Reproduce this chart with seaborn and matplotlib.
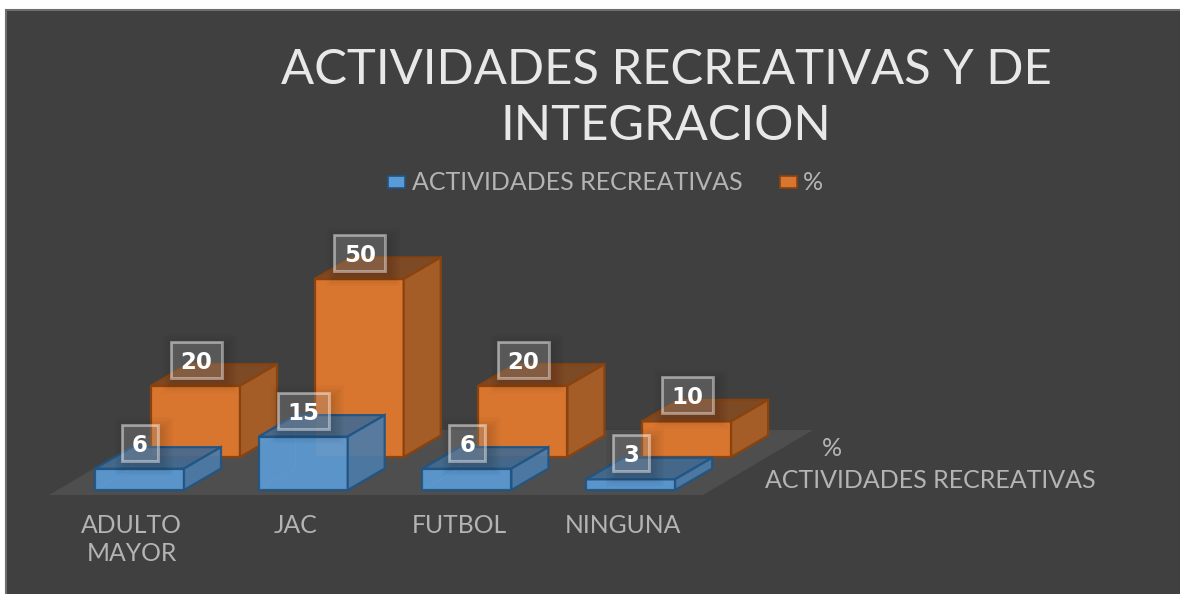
import matplotlib
matplotlib.use("Agg")
import matplotlib.pyplot as plt
import seaborn as sns
from matplotlib.patches import Polygon, Rectangle

# Data
categories = ["ADULTO\nMAYOR", "JAC", "FUTBOL", "NINGUNA"]
actividades = [6, 15, 6, 3]
porcentaje = [20, 50, 20, 10]
series_names = ["ACTIVIDADES RECREATIVAS", "%"]
title = "ACTIVIDADES RECREATIVAS Y DE\nINTEGRACION"

W, H = 1180, 594
BG = "#404040"
TXT = "#b4b4b4"
PX_X = 163.7   # pixels per category
PX_Y = 3.56    # pixels per value unit
DEPTH = (37, 21.5)  # box depth on screen, pixels

sns.set_theme(style="white")
plt.rcParams["font.family"] = ["Lato", "DejaVu Sans"]

fig = plt.figure(figsize=(W / 100, H / 100), dpi=100, facecolor="white")
fig.add_artist(Rectangle((6 / W, -0.01), 1, 1 + 0.01 - 10 / H, transform=fig.transFigure,
                         facecolor=BG, edgecolor="#6e6e6e", lw=1.5, zorder=-1))

# Floor of the 3D chart, in pixels
floor_ax = fig.add_axes([0, 0, 1, 1], facecolor="none")
floor_ax.set_xlim(0, W)
floor_ax.set_ylim(H, 0)
floor_ax.axis("off")
floor_ax.add_patch(Polygon([(49, 495), (703, 495), (813, 430), (159, 430)], facecolor="#4f4e4e", edgecolor="none"))


def draw_series(values, x0, y0, front, top, side, edge, alpha):
    """ Draws one row of boxes. x0 = pixel of first bar center, y0 = pixel of the base """
    ax = fig.add_axes([0, (H - y0) / H, 1, y0 / H], facecolor="none")
    sns.barplot(x=categories, y=values, ax=ax, color=front, saturation=1, width=89 / PX_X,
                edgecolor=edge, linewidth=1.6, alpha=alpha, clip_on=False)
    ax.set_xlim(-x0 / PX_X, (W - x0) / PX_X)
    ax.set_ylim(0, y0 / PX_Y)

    dx = DEPTH[0] / PX_X
    dy = DEPTH[1] / PX_Y
    for bar, value in zip(list(ax.patches), values):
        x1 = bar.get_x()
        x2 = x1 + bar.get_width()
        h = bar.get_height()
        # Back edges seen through the box
        ax.add_patch(Polygon([(x1, 0), (x1 + dx, dy), (x1 + dx, h + dy)], closed=False, fill=False,
                             edgecolor=front, lw=1, alpha=0.55, zorder=0.5, clip_on=False))
        ax.add_patch(Polygon([(x1, h), (x2, h), (x2 + dx, h + dy), (x1 + dx, h + dy)],
                             facecolor=top, edgecolor=edge, lw=1.6, alpha=alpha, clip_on=False))
        ax.add_patch(Polygon([(x2, 0), (x2 + dx, dy), (x2 + dx, h + dy), (x2, h)],
                             facecolor=side, edgecolor=edge, lw=1.6, alpha=alpha, clip_on=False))

        # Label box, sized in pixels and placed above the bar
        text = str(value)
        box_w = 21 + 15 * len(text)
        box_h = 36
        cx = x1 + bar.get_width() / 2 + 0.5 / PX_X
        cy = h + 26 / PX_Y
        # Soft shadow under the label
        for k in range(8):
            grow = 1.6 * k
            ax.add_patch(Rectangle((cx + (4 - box_w / 2 - grow) / PX_X, cy + (-4 - box_h / 2 - grow) / PX_Y),
                                   (box_w + 2 * grow) / PX_X, (box_h + 2 * grow) / PX_Y,
                                   facecolor="black", edgecolor="none", alpha=0.016, zorder=2, clip_on=False))
        ax.add_patch(Rectangle((cx - box_w / 2 / PX_X, cy - box_h / 2 / PX_Y), box_w / PX_X, box_h / PX_Y,
                               facecolor="white", alpha=0.17, edgecolor="none", zorder=3))
        ax.add_patch(Rectangle((cx - box_w / 2 / PX_X, cy - box_h / 2 / PX_Y), box_w / PX_X, box_h / PX_Y,
                               fill=False, edgecolor=(1, 1, 1, 0.45), lw=2, zorder=3))
        ax.text(cx, cy, text, ha="center", va="center_baseline", color="white", fontsize=16.5, fontweight="bold",
                family="DejaVu Sans", zorder=4)
    return ax


ax_back = draw_series(porcentaje, 195.5, 457, "#d8752f", "#7c4a24", "#a55d27", "#8a430f", 1)
ax_back.axis("off")
ax_front = draw_series(actividades, 139.5, 490, "#5b9bd5", "#456a8f", "#4c7ba8", "#1f5585", 0.92)

# Category labels come from the front row axis
ax_front.set_xticks([i - 8 / PX_X for i in range(len(categories))], categories)
ax_front.tick_params(axis="x", length=0, pad=17.5, labelsize=17.8, labelcolor=TXT)
ax_front.set_yticks([])
sns.despine(ax=ax_front, left=True, bottom=True)
for label in ax_front.get_xticklabels():
    label.set_linespacing(1.25)

# Series names on the depth axis
fig.text(765 / W, 1 - 481 / H, series_names[0], color=TXT, fontsize=18, va="center", ha="left")
fig.text(822 / W, 1 - 448 / H, series_names[1], color=TXT, fontsize=18, va="center", ha="left")

fig.text(666 / W, 1 - 98 / H, title, color="#e8e8e8", fontsize=35.3, ha="center", va="center", linespacing=1.31)

# Legend
fig.add_artist(Rectangle((388 / W, 1 - 188 / H), 17 / W, 12 / H, transform=fig.transFigure,
                         facecolor="#5b9bd5", edgecolor="#1f5585", lw=1.2))
fig.add_artist(Rectangle((780 / W, 1 - 188 / H), 17 / W, 12 / H, transform=fig.transFigure,
                         facecolor="#d8752f", edgecolor="#8a430f", lw=1.2))
fig.text(412 / W, 1 - 183 / H, series_names[0], color=TXT, fontsize=18, va="center", ha="left")
fig.text(803 / W, 1 - 183 / H, series_names[1], color=TXT, fontsize=18, va="center", ha="left")

fig.savefig("out.png", dpi=100, facecolor=fig.get_facecolor())
